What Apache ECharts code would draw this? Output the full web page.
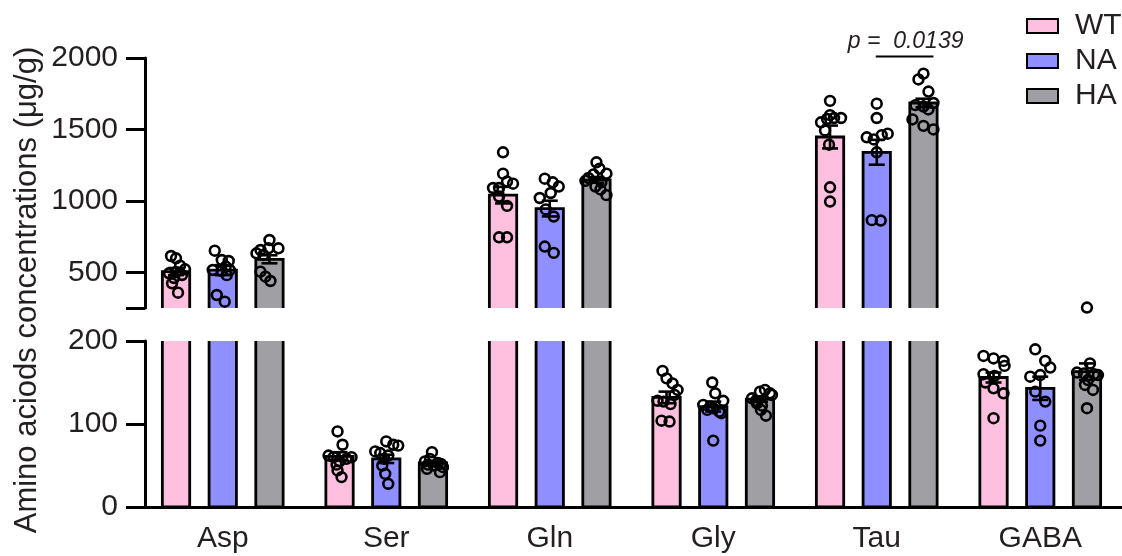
<!DOCTYPE html>
<html><head><meta charset="utf-8">
<script src="https://cdn.jsdelivr.net/npm/echarts@6/dist/echarts.min.js"></script>
<style>html,body{margin:0;padding:0;background:#fff}#c{width:1122px;height:556px}</style>
</head><body><div id="c"></div>
<script>
// ---------------- data ----------------
const categories = ['Asp', 'Ser', 'Gln', 'Gly', 'Tau', 'GABA'];
const groups = ['WT', 'NA', 'HA'];

const meanWT = [505, 61, 1040, 132, 1447, 156];
const meanNA = [515, 58, 946, 121, 1340, 143];
const meanHA = [591, 53, 1147, 130, 1685, 163];

const semWT = [25, 5, 58, 7, 80, 6];
const semNA = [35, 5, 55, 6, 87, 14];
const semHA = [28, 2.5, 20, 3, 30, 10];

const ptsWT = [
  [614, 598, 546, 521, 493, 502, 460, 423, 357, 481],
  [91, 75, 62, 60, 58, 60, 55, 51, 44, 36],
  [1340, 1190, 1135, 1120, 1090, 1090, 1030, 965, 745, 745],
  [164, 155, 149, 141, 135, 128, 127, 124, 104, 103],
  [1700, 1600, 1550, 1573, 1580, 1580, 1493, 1393, 1095, 995],
  [182, 179, 176, 170, 160, 158, 150, 143, 137, 107]
];
const ptsNA = [
  [651, 586, 579, 516, 509, 516, 480, 341, 294, 540],
  [79, 75, 74, 67, 65, 62, 58, 50, 40, 28],
  [1155, 1130, 1100, 1055, 1020, 940, 890, 680, 636],
  [150, 137, 128, 123, 121, 119, 115, 113, 117, 80],
  [1680, 1580, 1470, 1460, 1445, 1430, 1340, 865, 862],
  [190, 176, 168, 159, 157, 139, 127, 98, 80]
];
const ptsHA = [
  [726, 656, 668, 668, 633, 621, 504, 469, 439],
  [66, 58, 55, 53, 52, 51, 50, 48, 46, 42],
  [1270, 1225, 1190, 1185, 1160, 1140, 1130, 1100, 1080, 1040],
  [141, 139, 137, 135, 131, 128, 125, 122, 117, 110],
  [1890, 1850, 1765, 1685, 1670, 1660, 1640, 1570, 1525, 1500],
  [253, 173, 162, 161, 160, 159, 153, 147, 141, 119]
];

const upperTicks = [250, 500, 1000, 1500, 2000];
const upperLabels = [500, 1000, 1500, 2000];
const lowerTicks = [0, 100, 200];
const sigCategory = 4;           // Tau, NA vs HA
const pLabel = 'p =  0.0139';
const yName = 'Amino aciods concentrations (μg/g)';

// ---------------- layout / style (not data) ----------------
// horizontal scatter spread of each point, in px from its bar centre
const jitWT = [
  [-5, 0, 4, 9, -7, 0, -2, -4, 2, 6],
  [-2, 3, -11, -6, 7, 12, 0, -3, -2, 2],
  [0, 0, 4, 10, -10, -4, -4, 4, -4, 4],
  [-4, 0, 6, 11, 8, -9, -3, 4, -5, 3],
  [0, 0, -9, -3, 4, 11, -5, -1, 0, 0],
  [-10, 0, 10, 11, -10, 1, -8, 0, 10, 0]
];
const jitNA = [
  [-8, -1, 6, -10, -1, 7, 4, -6, 2, 3],
  [0, 7, 12, -11, -6, 2, -2, -4, -1, 2],
  [-5, 3, 9, 1, -10, -4, 4, -5, 4],
  [-1, 2, 10, -10, -3, 0, 6, 8, -6, 0],
  [0, 0, 11, 5, -10, -3, 0, -5, 4],
  [-5, 5, 10, 0, -10, -5, 5, 0, 0]
];
const jitHA = [
  [0, -9, -1, 9, -13, -6, -9, -4, 1],
  [-1, -3, -8, 5, 8, -5, 1, 10, -6, 7],
  [0, 3, 10, -3, -8, -11, 5, -1, 4, 10],
  [5, 0, 10, 12, -8, -4, -3, 2, 1, 6],
  [0, -5, 5, 10, -8, 0, 5, -11, 0, 10],
  [0, 3, -10, -3, 7, 11, 1, -2, 6, 0]
];

const COLORS = ['#FFBFDF', '#8F8FFF', '#A0A0A4'];
const TEXT = '#231F20';
const FONT = '"Liberation Sans", Arial, sans-serif';
const GROUP_OFF = 47 / 164.5;   // bar spacing as fraction of category band
const BAR_W = 27.5 / 164.5;     // bar width as fraction of category band

const means = [meanWT, meanNA, meanHA];
const sems = [semWT, semNA, semHA];
const pts = [ptsWT, ptsNA, ptsHA];
const jits = [jitWT, jitNA, jitHA];
const ranges = [[250, 2000], [0, 200]];

function barRender(gi) {
  return function (params, api) {
    const ci = api.value(0), v = api.value(1);
    const band = api.size([1, 0])[0];
    const top = api.coord([ci, v]);
    const base = api.coord([ci, 0]);
    const cx = top[0] + (gi - 1) * GROUP_OFF * band;
    const w = BAR_W * band;
    return {
      type: 'rect',
      shape: { x: cx - w / 2, y: top[1], width: w, height: base[1] - top[1] },
      style: { fill: COLORS[gi], stroke: '#000', lineWidth: 2.8 }
    };
  };
}
function errRender(gi) {
  return function (params, api) {
    const ci = api.value(0), m = api.value(1), s = api.value(2);
    const band = api.size([1, 0])[0];
    const c = api.coord([ci, m]);
    const hi = api.coord([ci, m + s]);
    const lo = api.coord([ci, m - s]);
    const x = c[0] + (gi - 1) * GROUP_OFF * band;
    const h = 8;
    const st = { stroke: '#000', lineWidth: 2.6 };
    return {
      type: 'group',
      children: [
        { type: 'line', shape: { x1: x, y1: hi[1], x2: x, y2: lo[1] }, style: st },
        { type: 'line', shape: { x1: x - h, y1: hi[1], x2: x + h, y2: hi[1] }, style: st },
        { type: 'line', shape: { x1: x - h, y1: lo[1], x2: x + h, y2: lo[1] }, style: st }
      ]
    };
  };
}
function ptRender(gi) {
  return function (params, api) {
    const ci = api.value(0), v = api.value(1), j = api.value(2);
    const band = api.size([1, 0])[0];
    const c = api.coord([ci, v]);
    return {
      type: 'circle',
      shape: { cx: c[0] + (gi - 1) * GROUP_OFF * band + j, cy: c[1], r: 4.9 },
      style: { fill: 'none', stroke: '#000', lineWidth: 2.6 }
    };
  };
}

const series = [];
[0, 1].forEach(function (g) {
  groups.forEach(function (name, gi) {
    series.push({
      type: 'custom', name: name, xAxisIndex: g, yAxisIndex: g, clip: true, z: 2,
      itemStyle: { color: COLORS[gi] },
      encode: { x: 0, y: 1 },
      data: categories.map(function (c, i) { return [i, means[gi][i]]; }),
      renderItem: barRender(gi)
    });
  });
  groups.forEach(function (name, gi) {
    const d = [];
    categories.forEach(function (c, i) {
      pts[gi][i].forEach(function (v, k) {
        if (v >= ranges[g][0] && v <= ranges[g][1]) d.push([i, v, jits[gi][i][k]]);
      });
    });
    series.push({
      type: 'custom', name: name + ' points', xAxisIndex: g, yAxisIndex: g, clip: false, z: 3,
      encode: { x: 0, y: 1 }, data: d, renderItem: ptRender(gi)
    });
  });
  groups.forEach(function (name, gi) {
    series.push({
      type: 'custom', name: name + ' sem', xAxisIndex: g, yAxisIndex: g, clip: true, z: 4,
      encode: { x: 0, y: 1 },
      data: categories.map(function (c, i) { return [i, means[gi][i], sems[gi][i]]; }),
      renderItem: errRender(gi)
    });
  });
});
// significance bracket (Tau, NA vs HA)
series.push({
  type: 'custom', name: 'sig', xAxisIndex: 0, yAxisIndex: 0, clip: false, z: 5,
  encode: { x: 0, y: 1 },
  data: [[sigCategory, 2000]],
  renderItem: function (params, api) {
    const band = api.size([1, 0])[0];
    const c = api.coord([api.value(0), api.value(1)]);
    const x1 = c[0] - 1;
    const x2 = c[0] + GROUP_OFF * band + 10;
    const y = c[1] - 1.6;
    return {
      type: 'group',
      children: [
        { type: 'line', shape: { x1: x1, y1: y, x2: x2, y2: y }, style: { stroke: '#000', lineWidth: 2 } },
        { type: 'text', style: { text: pLabel, x: (x1 + x2) / 2 + 1, y: y - 15, align: 'center', verticalAlign: 'middle',
            fontSize: 23, fontStyle: 'italic', fontFamily: FONT, fill: TEXT } }
      ]
    };
  }
});

const axisLineStyle = { color: '#000', width: 3 };
const plain = function (v) { return String(v); };
const chart = echarts.init(document.getElementById('c'), null, { renderer: 'canvas' });
chart.setOption({
  animation: false,
  backgroundColor: '#fff',
  textStyle: { fontFamily: FONT },
  grid: [
    { left: 141, top: 58, width: 987, height: 250 },
    { left: 141, top: 341, width: 987, height: 166 }
  ],
  xAxis: [
    { type: 'category', gridIndex: 0, data: categories, show: false },
    { type: 'category', gridIndex: 1, data: categories,
      axisLine: { lineStyle: axisLineStyle },
      axisTick: { alignWithLabel: true, length: 8, lineStyle: axisLineStyle },
      axisLabel: { fontSize: 30, color: TEXT, margin: 17, fontFamily: FONT } }
  ],
  yAxis: [
    { type: 'value', gridIndex: 0, min: 250, max: 2000, offset: -4,
      axisLine: { show: true, lineStyle: axisLineStyle },
      axisTick: { show: true, length: 19, lineStyle: axisLineStyle, customValues: upperTicks },
      axisLabel: { fontSize: 30, color: TEXT, margin: 27, fontFamily: FONT, customValues: upperLabels, formatter: plain },
      splitLine: { show: false } },
    { type: 'value', gridIndex: 1, min: lowerTicks[0], max: lowerTicks[2], interval: lowerTicks[1] - lowerTicks[0], offset: -4,
      axisLine: { show: true, lineStyle: axisLineStyle },
      axisTick: { show: true, length: 19, lineStyle: axisLineStyle },
      axisLabel: { fontSize: 30, color: TEXT, margin: 27, fontFamily: FONT, formatter: plain },
      splitLine: { show: false } }
  ],
  legend: {
    orient: 'vertical', left: 1021, top: 6, itemWidth: 31, itemHeight: 14, itemGap: 5,
    selectedMode: false,
    textStyle: { fontSize: 30, lineHeight: 30, color: TEXT, fontFamily: FONT, padding: [0, 0, 0, 12] },
    data: groups.map(function (g, i) {
      return { name: g, icon: 'rect', itemStyle: { color: COLORS[i], borderColor: '#000', borderWidth: 2 } };
    })
  },
  graphic: [
    { type: 'text', x: 27, y: 290, rotation: Math.PI / 2,
      style: { text: yName, fontSize: 31, fontFamily: FONT, fill: TEXT, align: 'center', verticalAlign: 'middle' } }
  ],
  series: series
});
</script></body></html>
